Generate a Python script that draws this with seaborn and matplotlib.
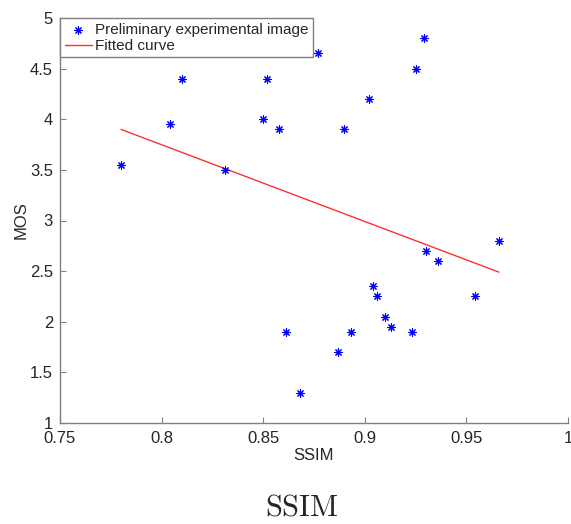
import matplotlib
matplotlib.use("Agg")
import matplotlib.pyplot as plt
import seaborn as sns
import pandas as pd

ssim = [0.780, 0.804, 0.810, 0.831, 0.850, 0.852, 0.858, 0.861, 0.868, 0.877,
        0.887, 0.890, 0.893, 0.902, 0.904, 0.906, 0.910, 0.913, 0.923, 0.925,
        0.929, 0.930, 0.936, 0.954, 0.966]
mos = [3.55, 3.95, 4.40, 3.50, 4.00, 4.40, 3.90, 1.90, 1.30, 4.65,
       1.70, 3.90, 1.90, 4.20, 2.35, 2.25, 2.05, 1.95, 1.90, 4.50,
       4.80, 2.70, 2.60, 2.25, 2.80]
fit_x = [0.780, 0.966]
fit_y = [3.90, 2.49]

xticks = [0.75, 0.8, 0.85, 0.9, 0.95, 1]
xticklabels = ["0.75", "0.8", "0.85", "0.9", "0.95", "1"]
yticks = [1, 1.5, 2, 2.5, 3, 3.5, 4, 4.5, 5]
yticklabels = ["1", "1.5", "2", "2.5", "3", "3.5", "4", "4.5", "5"]

sns.set_style("ticks")
plt.rcParams['font.family'] = ['Liberation Sans', 'DejaVu Sans']
plt.rcParams['mathtext.fontset'] = 'cm'

fig = plt.figure(figsize=(5.71, 5.24), dpi=100)
ax = fig.add_axes([60/571, 1-423/524, 508/571, 405/524])

pts = pd.DataFrame({"SSIM": ssim, "MOS": mos})
fit = pd.DataFrame({"x": fit_x, "y": fit_y})

sns.scatterplot(data=pts, x="SSIM", y="MOS", ax=ax, marker=(8, 2, 0), color="blue",
                s=28, linewidth=0.8, label="Preliminary experimental image", zorder=3)
sns.lineplot(data=fit, x="x", y="y", ax=ax, color="#ff3030", linewidth=1.0,
             label="Fitted curve", zorder=2)

ax.set_xlim(0.75, 1)
ax.set_ylim(1, 5)
ax.set_xticks(xticks)
ax.set_xticklabels(xticklabels)
ax.set_yticks(yticks)
ax.set_yticklabels(yticklabels)
ax.tick_params(direction="in", length=4, width=0.8, color="#808080", labelsize=12,
               labelcolor="#262626", pad=5)
ax.tick_params(axis="x", pad=6)
for s in ["top", "right"]:
    ax.spines[s].set_visible(False)
for s in ["left", "bottom"]:
    ax.spines[s].set_color("#808080")
    ax.spines[s].set_linewidth(1.0)

ax.set_xlabel("SSIM", fontsize=12, color="#262626", labelpad=1)
ax.set_ylabel("MOS", fontsize=12, color="#262626", labelpad=1)

leg = ax.legend(loc="upper left", borderaxespad=0, fancybox=False, fontsize=11,
                handlelength=1.8, borderpad=0.3, labelspacing=0.15, handletextpad=0.2,
                framealpha=1)
leg.get_frame().set_edgecolor("#808080")
leg.get_frame().set_linewidth(1.0)

fig.text(302/571, 1-508/524, r"$\mathrm{SSIM}$", ha="center", va="center", fontsize=22)

fig.savefig("out.png", dpi=100)
